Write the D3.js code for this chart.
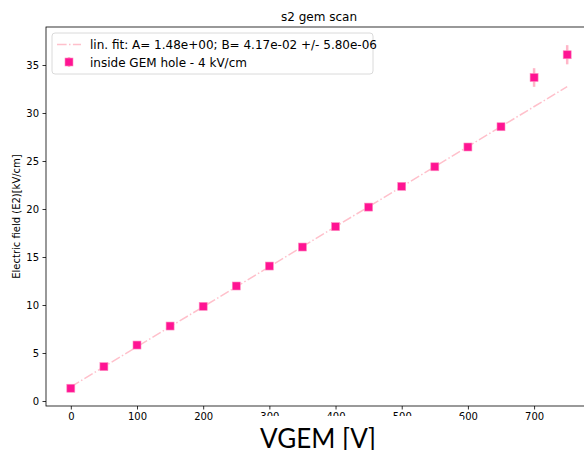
<!DOCTYPE html>
<html>
<head>
<meta charset="utf-8">
<script src="https://cdn.jsdelivr.net/npm/d3@7"></script>
<style>
  html, body { margin: 0; padding: 0; background: #fff; }
  svg { display: block; }
</style>
</head>
<body>
<script>
// Gate voltage scan: field inside the GEM hole vs applied VGEM
const vgem = [0, 50, 100, 150, 200, 250, 300, 350, 400, 450, 500, 550, 600, 650, 700, 750];
const field = [1.33, 3.58, 5.83, 7.81, 9.86, 11.98, 14.06, 16.04, 18.16, 20.2, 22.36, 24.4, 26.46, 28.57, 33.7, 36.07];
const fieldErr = [0.05, 0.05, 0.05, 0.05, 0.05, 0.05, 0.05, 0.05, 0.05, 0.05, 0.05, 0.05, 0.05, 0.05, 0.97, 1.0];
const fitA = 1.48, fitB = 4.17e-02, fitBErr = 5.80e-06;
const xTicks = [0, 100, 200, 300, 400, 500, 600, 700];
const yTicks = [0, 5, 10, 15, 20, 25, 30, 35];

const W = 584, H = 450;
const m = { left: 46, top: 27, right: 592, bottom: 406 };

const svg = d3.select("body").append("svg").attr("width", W).attr("height", H);

const x = d3.scaleLinear().domain([-37.5, 787.5]).range([m.left, m.right]);
const y = d3.scaleLinear().domain([-0.52, 38.96]).range([m.bottom, m.top]);

const font = "DejaVu Sans, sans-serif";

// axes
const gx = svg.append("g").attr("transform", `translate(0,${m.bottom})`)
  .call(d3.axisBottom(x).tickValues(xTicks).tickSize(3.5).tickPadding(3.5).tickFormat(d3.format("d")));
const gy = svg.append("g").attr("transform", `translate(${m.left},0)`)
  .call(d3.axisLeft(y).tickValues(yTicks).tickSize(3.5).tickPadding(3.5).tickFormat(d3.format("d")));
[gx, gy].forEach(g => {
  g.select(".domain").remove();
  g.selectAll(".tick line").attr("stroke", "#000").attr("stroke-width", 0.8);
  g.selectAll(".tick text").attr("font-family", font).attr("font-size", 10).attr("fill", "#000");
});

// plot frame
svg.append("rect").attr("x", m.left).attr("y", m.top)
  .attr("width", m.right - m.left).attr("height", m.bottom - m.top)
  .attr("fill", "none").attr("stroke", "#000").attr("stroke-width", 0.8);

const clip = svg.append("clipPath").attr("id", "plotclip").append("rect")
  .attr("x", m.left).attr("y", m.top).attr("width", m.right - m.left).attr("height", m.bottom - m.top);
const plot = svg.append("g").attr("clip-path", "url(#plotclip)");

// linear fit
const fitX = [vgem[0], vgem[vgem.length - 1]];
plot.append("path")
  .attr("d", d3.line().x(d => x(d)).y(d => y(fitA + fitB * d))(fitX))
  .attr("fill", "none").attr("stroke", "#ffc0cb").attr("stroke-width", 1.5)
  .attr("stroke-dasharray", "9.6,2.4,1.5,2.4");

// error bars
const pts = vgem.map((v, i) => ({ v, e: field[i], err: fieldErr[i] }));
plot.selectAll("line.err").data(pts).enter().append("line")
  .attr("x1", d => x(d.v)).attr("x2", d => x(d.v))
  .attr("y1", d => y(d.e - d.err)).attr("y2", d => y(d.e + d.err))
  .attr("stroke", "#ffb6c8").attr("stroke-width", 2.5);

// markers
const ms = 8;
plot.selectAll("rect.pt").data(pts).enter().append("rect")
  .attr("x", d => x(d.v) - ms / 2).attr("y", d => y(d.e) - ms / 2)
  .attr("width", ms).attr("height", ms)
  .attr("fill", "#ff1493").attr("stroke", "#ff8cc0").attr("stroke-width", 0.6);

// title
svg.append("text").attr("x", (m.left + m.right) / 2).attr("y", 21)
  .attr("text-anchor", "middle").attr("font-family", font).attr("font-size", 12)
  .text("s2 gem scan");

// y label
svg.append("text").attr("transform", `translate(20,${(m.top + m.bottom) / 2}) rotate(-90)`)
  .attr("text-anchor", "middle").attr("font-family", font).attr("font-size", 10)
  .text("Electric field (E2)[kV/cm]");

// x label with its own background
svg.append("rect").attr("x", 240).attr("y", 416).attr("width", 223).attr("height", 40).attr("fill", "#fff");
svg.append("text").attr("x", 318).attr("y", 448)
  .attr("text-anchor", "middle").attr("font-family", "Lato, sans-serif")
  .attr("font-size", 26)
  .text("VGEM [V]");

// legend
const fmtExp = v => v.toExponential(2).replace(/e([+-])(\d)$/, "e$10$2");
const lg = svg.append("g");
lg.append("rect").attr("x", 52).attr("y", 33).attr("width", 321).attr("height", 41)
  .attr("rx", 3).attr("fill", "#fff").attr("fill-opacity", 0.8)
  .attr("stroke", "#d0d0d0").attr("stroke-width", 0.8);
lg.append("line").attr("x1", 57).attr("x2", 81).attr("y1", 44.5).attr("y2", 44.5)
  .attr("stroke", "#ffc0cb").attr("stroke-width", 1.5).attr("stroke-dasharray", "9.6,2.4,1.5,2.4");
lg.append("text").attr("x", 90).attr("y", 49).attr("font-family", font).attr("font-size", 12)
  .text(`lin. fit: A= ${fmtExp(fitA)}; B= ${fmtExp(fitB)} +/- ${fmtExp(fitBErr)}`);
lg.append("line").attr("x1", 69).attr("x2", 69).attr("y1", 57).attr("y2", 67)
  .attr("stroke", "#ffb6c8").attr("stroke-width", 2.5);
lg.append("rect").attr("x", 65).attr("y", 58).attr("width", ms).attr("height", ms)
  .attr("fill", "#ff1493").attr("stroke", "#ff8cc0").attr("stroke-width", 0.6);
lg.append("text").attr("x", 90).attr("y", 67).attr("font-family", font).attr("font-size", 12)
  .text("inside GEM hole - 4 kV/cm");
</script>
</body>
</html>
